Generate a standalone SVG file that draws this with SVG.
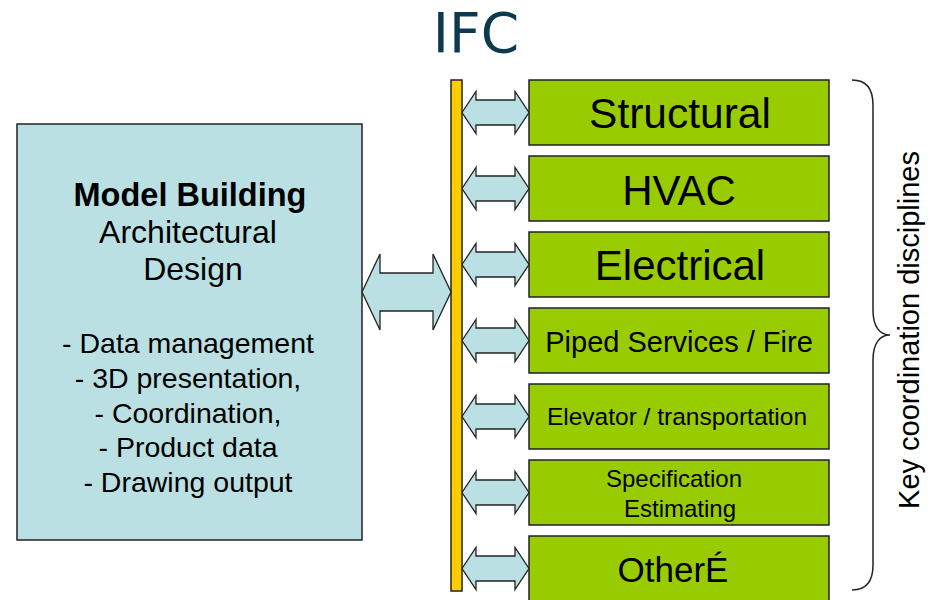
<svg xmlns="http://www.w3.org/2000/svg" width="935" height="600" viewBox="0 0 935 600">
  <style>
    .t { font-family: "Liberation Sans", Arial, sans-serif; fill: #000; text-anchor: middle; }
    .box { fill: #99cc00; stroke: #222; stroke-width: 1.5; }
    .arrow { fill: #bbe0e3; stroke: #222; stroke-width: 1.3; stroke-linejoin: miter; }
  </style>
  <defs>
    <path id="sarrow" d="M462,0 L476,-21 L476,-12.5 L515,-12.5 L515,-21 L529,0 L515,21 L515,12.5 L476,12.5 L476,21 Z"/>
  </defs>
  <rect width="935" height="600" fill="#ffffff"/>

  <g id="title">
    <text x="476" y="52" font-family="'DejaVu Sans', Verdana, sans-serif" font-size="55" fill="#0b3a4f" text-anchor="middle">IFC</text>
  </g>

  <g id="model-building">
    <rect x="17" y="124" width="345" height="416" fill="#bbe0e3" stroke="#222" stroke-width="1.5"/>
    <text class="t" x="190" y="206" font-size="32.5" font-weight="bold">Model Building</text>
    <text class="t" x="188" y="243" font-size="32">Architectural</text>
    <text class="t" x="193" y="280" font-size="32">Design</text>
    <text class="t" x="188" y="353" font-size="28.5">- Data management</text>
    <text class="t" x="188" y="388" font-size="28.5">- 3D presentation,</text>
    <text class="t" x="188" y="423" font-size="28.5">- Coordination,</text>
    <text class="t" x="188" y="457" font-size="28.5">- Product data</text>
    <text class="t" x="188" y="492" font-size="28.5">- Drawing output</text>
  </g>

  <g id="ifc-bus">
    <rect x="451" y="80" width="11" height="511" fill="#ffcc00" stroke="#222" stroke-width="1.5"/>
  </g>

  <g id="structural">
    <rect class="box" x="529" y="80" width="300" height="65"/>
    <text class="t" x="680" y="128" font-size="42.5">Structural</text>
  </g>
  <g id="hvac">
    <rect class="box" x="529" y="156" width="300" height="65"/>
    <text class="t" x="679" y="205" font-size="42">HVAC</text>
  </g>
  <g id="electrical">
    <rect class="box" x="529" y="232" width="300" height="65"/>
    <text class="t" x="680" y="280" font-size="42">Electrical</text>
  </g>
  <g id="piped">
    <rect class="box" x="529" y="308" width="300" height="65"/>
    <text class="t" x="679" y="352" font-size="29">Piped Services / Fire</text>
  </g>
  <g id="elevator">
    <rect class="box" x="529" y="384" width="300" height="65"/>
    <text class="t" x="677" y="425" font-size="24.5">Elevator / transportation</text>
  </g>
  <g id="specification">
    <rect class="box" x="529" y="460" width="300" height="65"/>
    <text class="t" x="674" y="487" font-size="24">Specification</text>
    <text class="t" x="680" y="517" font-size="24">Estimating</text>
  </g>
  <g id="other">
    <rect class="box" x="529" y="536" width="300" height="66"/>
    <text class="t" x="673" y="582" font-size="35">OtherÉ</text>
  </g>

  <g id="connectors">
    <path class="arrow" d="M362,292 L380,254 L380,273 L433,273 L433,254 L451,292 L433,330 L433,311 L380,311 L380,330 Z"/>
    <use href="#sarrow" class="arrow" transform="translate(0,112.5)"/>
    <use href="#sarrow" class="arrow" transform="translate(0,188.5)"/>
    <use href="#sarrow" class="arrow" transform="translate(0,264.5)"/>
    <use href="#sarrow" class="arrow" transform="translate(0,340.5)"/>
    <use href="#sarrow" class="arrow" transform="translate(0,416.5)"/>
    <use href="#sarrow" class="arrow" transform="translate(0,492.5)"/>
    <use href="#sarrow" class="arrow" transform="translate(0,568.5)"/>
  </g>

  <g id="key-disciplines">
    <path d="M852,80 C866,80 873,88 873,105 L873,310 C873,327 880,335 890,335 C880,335 873,343 873,360 L873,565 C873,582 866,590 852,590" fill="none" stroke="#222" stroke-width="1.5"/>
    <text class="t" font-size="29" transform="translate(919,330) rotate(-90)">Key coordination disciplines</text>
  </g>
</svg>
